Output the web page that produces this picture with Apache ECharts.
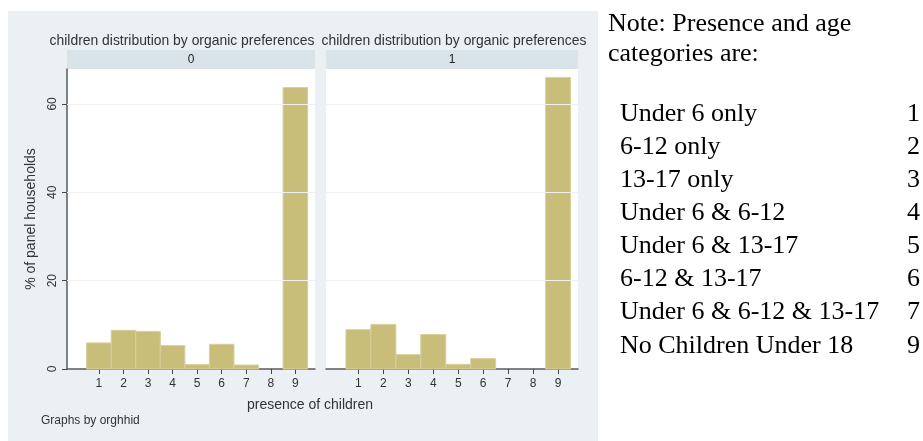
<!DOCTYPE html>
<html>
<head>
<meta charset="utf-8">
<script src="https://cdn.jsdelivr.net/npm/echarts@6/dist/echarts.min.js"></script>
<style>
  html, body { margin: 0; padding: 0; background: #fff; }
  #chart { width: 923px; height: 441px; }
</style>
</head>
<body>
<div id="chart"></div>
<script>
// presence of children codes (x) and % of panel households per organic preference group
var childCodes = [1, 2, 3, 4, 5, 6, 7, 8, 9]
var pctGroup0 = [5.9, 8.75, 8.5, 5.3, 1.0, 5.6, 0.9, 0, 63.7]
var pctGroup1 = [8.9, 10.1, 3.25, 7.8, 1.05, 2.35, 0, 0, 66.0]
var groupLabels = ['0', '1']
var yTicks = [0, 20, 40, 60]
var panelTitle = 'children distribution by organic preferences'

var noteHead = ['Note: Presence and age', 'categories are:']
var noteNames = ['Under 6 only', '6-12 only', '13-17 only', 'Under 6 & 6-12', 'Under 6 & 13-17',
    '6-12 & 13-17', 'Under 6 & 6-12 & 13-17', 'No Children Under 18']
var noteCodes = ['1', '2', '3', '4', '5', '6', '7', '9']

var sans = '"Liberation Sans", Arial, sans-serif'
var serif = '"Liberation Serif", "Times New Roman", serif'
var barColor = '#c9bd7a'

var toPairs = function (vals) {
    var out = []
    for (var i = 0; i < childCodes.length; i++) {
        out.push([childCodes[i], vals[i]])
    }
    return out
}

// one bar per code, one unit wide, centred on the code
var renderBar = function (params, api) {
    var x = api.value(0)
    var y = api.value(1)
    if (!y) return null
    var p0 = api.coord([x - 0.5, y])
    var p1 = api.coord([x + 0.5, 0])
    return {
        type: 'rect',
        shape: { x: p0[0], y: p0[1], width: p1[0] - p0[0], height: p1[1] - p0[1] },
        style: { fill: barColor, stroke: '#d8cf9e', lineWidth: 1 }
    }
}

var xAxisFor = function (idx) {
    return {
        type: 'value', gridIndex: idx, min: -0.3, max: 9.8,
        axisLine: { show: true, onZero: false, lineStyle: { color: '#5a5a5a', width: 1.5 } },
        axisTick: { show: true, length: 5, customValues: childCodes, lineStyle: { color: '#444' } },
        axisLabel: { customValues: childCodes, margin: 9, fontSize: 12, fontFamily: sans, color: '#333' },
        splitLine: { show: false }
    }
}

var yAxisFor = function (idx) {
    var showIt = idx === 0
    return {
        type: 'value', gridIndex: idx, min: 0, max: 67.9,
        name: showIt ? '% of panel households' : '',
        nameLocation: 'middle', nameGap: 29,
        nameTextStyle: { fontSize: 14, fontFamily: sans, color: '#333' },
        axisLine: { show: showIt, onZero: false, lineStyle: { color: '#5a5a5a', width: 1.5 } },
        axisTick: { show: showIt, length: 5, customValues: yTicks, lineStyle: { color: '#444' } },
        axisLabel: { show: showIt, customValues: yTicks, rotate: 90, margin: 8, fontSize: 12, fontFamily: sans, color: '#333' },
        splitLine: { show: false }
    }
}

var seriesFor = function (idx, vals) {
    return {
        type: 'custom',
        xAxisIndex: idx, yAxisIndex: idx,
        renderItem: renderBar,
        data: toPairs(vals),
        silent: true,
        markLine: {
            silent: true, symbol: 'none', label: { show: false },
            lineStyle: { color: '#f0f0f0', width: 1, type: 'solid' },
            data: [{ yAxis: 20 }, { yAxis: 40 }, { yAxis: 60 }]
        }
    }
}

var graphics = [
    { type: 'rect', z: -10, shape: { x: 8, y: 11, width: 590, height: 430 }, style: { fill: '#eaf0f4' } },
    { type: 'rect', shape: { x: 67, y: 50, width: 248, height: 19 }, style: { fill: '#d8e3ea' } },
    { type: 'rect', shape: { x: 326, y: 50, width: 252, height: 19 }, style: { fill: '#d8e3ea' } },
    { type: 'text', x: 182, y: 41, style: { text: panelTitle, font: '13.9px ' + sans, fill: '#333', textAlign: 'center', textVerticalAlign: 'middle' } },
    { type: 'text', x: 454, y: 41, style: { text: panelTitle, font: '13.9px ' + sans, fill: '#333', textAlign: 'center', textVerticalAlign: 'middle' } },
    { type: 'text', x: 191, y: 60, style: { text: groupLabels[0], font: '12px ' + sans, fill: '#222', textAlign: 'center', textVerticalAlign: 'middle' } },
    { type: 'text', x: 452, y: 60, style: { text: groupLabels[1], font: '12px ' + sans, fill: '#222', textAlign: 'center', textVerticalAlign: 'middle' } },
    { type: 'text', x: 310, y: 405, style: { text: 'presence of children', font: '14px ' + sans, fill: '#333', textAlign: 'center', textVerticalAlign: 'middle' } },
    { type: 'text', x: 41, y: 421, style: { text: 'Graphs by orghhid', font: '12px ' + sans, fill: '#333', textAlign: 'left', textVerticalAlign: 'middle' } }
]

// note block on the right
for (var h = 0; h < noteHead.length; h++) {
    graphics.push({ type: 'text', x: 608, y: 24 + h * 30,
        style: { text: noteHead[h], font: '26px ' + serif, fill: '#000', textAlign: 'left', textVerticalAlign: 'middle' } })
}
for (var r = 0; r < noteNames.length; r++) {
    var ry = 114 + r * 33.1
    graphics.push({ type: 'text', x: 620, y: ry,
        style: { text: noteNames[r], font: '26px ' + serif, fill: '#000', textAlign: 'left', textVerticalAlign: 'middle' } })
    graphics.push({ type: 'text', x: 907, y: ry,
        style: { text: noteCodes[r], font: '26px ' + serif, fill: '#000', textAlign: 'left', textVerticalAlign: 'middle' } })
}

var chart = echarts.init(document.getElementById('chart'))
var option = {
    animation: false,
    backgroundColor: '#fff',
    grid: [
        { left: 67, right: 608, top: 69, bottom: 72, show: true, backgroundColor: '#fff', borderWidth: 0 },
        { left: 326, right: 345, top: 69, bottom: 72, show: true, backgroundColor: '#fff', borderWidth: 0 }
    ],
    xAxis: [xAxisFor(0), xAxisFor(1)],
    yAxis: [yAxisFor(0), yAxisFor(1)],
    series: [seriesFor(0, pctGroup0), seriesFor(1, pctGroup1)],
    graphic: graphics
}
chart.setOption(option)
</script>
</body>
</html>
